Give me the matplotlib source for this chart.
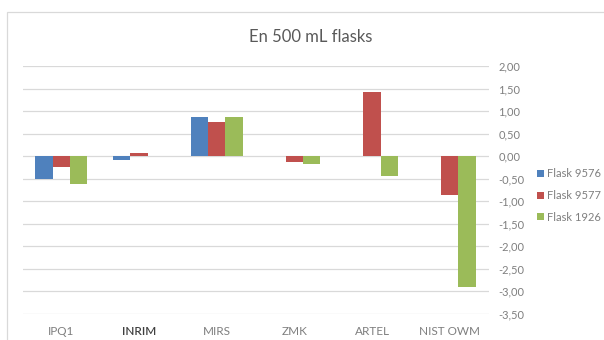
import matplotlib
matplotlib.use("Agg")
import matplotlib.pyplot as plt
from matplotlib.patches import Rectangle
from matplotlib.ticker import FuncFormatter
import numpy as np

# - DATA -
labs = ["IPQ1", "INRIM", "MIRS", "ZMK", "ARTEL", "NIST OWM"]
flask_9576 = [-0.52, -0.09, 0.87, 0.0, 0.0, 0.0]
flask_9577 = [-0.25, 0.07, 0.76, -0.13, 1.43, -0.86]
flask_1926 = [-0.62, 0.0, 0.87, -0.18, -0.44, -2.92]
series_names = ["Flask 9576", "Flask 9577", "Flask 1926"]
yticks = [2.0, 1.5, 1.0, 0.5, 0.0, -0.5, -1.0, -1.5, -2.0, -2.5, -3.0, -3.5]
# - DATA -

colors = ["#4F81BD", "#C0504D", "#9BBB59"]
grid_col = "#d9d9d9"
text_col = "#7f7f7f"

plt.rcParams["font.family"] = ["Lato", "DejaVu Sans"]

W, H = 604, 340
fig = plt.figure(figsize=(W / 100, H / 100), dpi=100)

# axes box in pixels: x 22.5..488.5, y 66..313.5
ax = fig.add_axes([22.5 / W, (H - 313.5) / H, 466 / W, 247.5 / H])

x = np.arange(len(labs))
w = 0.223
for i, vals in enumerate([flask_9576, flask_9577, flask_1926]):
    ax.bar(x + (i - 1) * w, vals, width=w, color=colors[i], label=series_names[i], zorder=3)

ax.set_xlim(-0.5, len(labs) - 0.5)
ax.set_ylim(-3.5, 2.0)
ax.set_yticks(yticks)
ax.yaxis.set_major_formatter(FuncFormatter(lambda v, p: f"{v:.2f}".replace(".", ",")))
ax.yaxis.tick_right()
ax.grid(axis="y", color=grid_col, linewidth=0.9, zorder=0)
ax.tick_params(axis="y", length=0, pad=7, labelsize=8, labelcolor=text_col)

ax.set_xticks(x)
ax.set_xticklabels(labs)
ax.tick_params(axis="x", length=0, pad=9, labelsize=8.5, labelcolor=text_col)
inrim = ax.get_xticklabels()[1]
inrim.set_color("#404040")
inrim.set_fontweight("semibold")

for s in ax.spines.values():
    s.set_visible(False)

fig.text(310.5 / W, 1 - 37 / H, "En 500 mL flasks", ha="center", va="center",
         fontsize=12, color="#595959")

leg = fig.legend(loc="upper left", bbox_to_anchor=(533 / W, 1 - 164 / H),
                 frameon=False, fontsize=8, handlelength=0.6, handleheight=0.6,
                 handletextpad=0.3, labelspacing=0.95, borderaxespad=0)
for t in leg.get_texts():
    t.set_color(text_col)

# chart area border
fig.add_artist(Rectangle((7 / W, -0.1), 1.2, 1.1 - 12 / H, transform=fig.transFigure,
                         fill=False, edgecolor=grid_col, linewidth=0.9))

fig.savefig("out.png", dpi=100)
